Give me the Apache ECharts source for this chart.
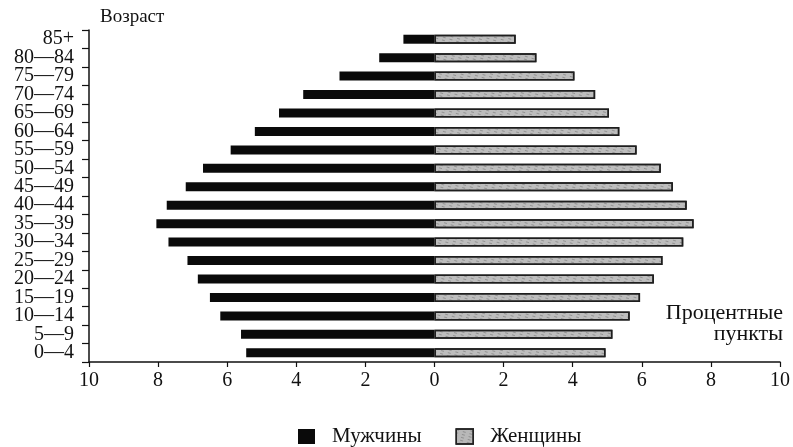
<!DOCTYPE html>
<html>
<head>
<meta charset="utf-8">
<script src="https://cdn.jsdelivr.net/npm/echarts@6/dist/echarts.min.js"></script>
<style>
html,body{margin:0;padding:0;background:#fff;}
#chart{width:793px;height:447px;}
</style>
</head>
<body>
<div id="chart"></div>
<script>
const ageGroups = ['0—4','5—9','10—14','15—19','20—24','25—29','30—34','35—39','40—44','45—49','50—54','55—59','60—64','65—69','70—74','75—79','80—84','85+'];
const men   = [5.45, 5.6, 6.2, 6.5, 6.85, 7.15, 7.7, 8.05, 7.75, 7.2, 6.7, 5.9, 5.2, 4.5, 3.8, 2.75, 1.6, 0.9];
const women = [4.95, 5.15, 5.65, 5.95, 6.35, 6.6, 7.2, 7.5, 7.3, 6.9, 6.55, 5.85, 5.35, 5.05, 4.65, 4.05, 2.95, 2.35];
const xTicks = [-10, -8, -6, -4, -2, 0, 2, 4, 6, 8, 10];
const seriesNames = ['Мужчины', 'Женщины'];

const FONT = '"Liberation Serif", "DejaVu Serif", serif';
const chart = echarts.init(document.getElementById('chart'));
chart.setOption({
  animation: false,
  backgroundColor: '#fff',
  textStyle: { fontFamily: FONT, color: '#111' },
  grid: { left: 89, right: 11, top: 30, bottom: 85, containLabel: false },
  xAxis: {
    type: 'value',
    min: xTicks[0], max: xTicks[xTicks.length - 1], interval: 2,
    axisLine: { show: true, onZero: false, lineStyle: { color: '#111', width: 1.5 } },
    axisTick: { show: true, length: 5, lineStyle: { color: '#111', width: 1.2 } },
    splitLine: { show: false },
    axisLabel: {
      fontFamily: FONT, fontSize: 20, color: '#111', margin: 9,
      formatter: v => String(Math.abs(v))
    }
  },
  yAxis: {
    type: 'category',
    data: ageGroups,
    axisLine: { show: true, onZero: false, lineStyle: { color: '#111', width: 1.5 } },
    axisTick: { show: true, length: 7, interval: 0, lineStyle: { color: '#111', width: 1.2 } },
    axisLabel: { fontFamily: FONT, fontSize: 20, lineHeight: 18, color: '#111', margin: 15, interval: 0 }
  },
  legend: {
    left: 293, top: 421,
    itemWidth: 17, itemHeight: 15, itemGap: 34,
    textStyle: { fontFamily: FONT, fontSize: 21, color: '#111', padding: [0, 0, 0, 12] },
    data: [
      { name: seriesNames[0], icon: 'rect', itemStyle: { color: '#0a0a0a' } },
      { name: seriesNames[1], icon: 'rect', itemStyle: { color: '#b8b8b8', borderColor: '#222', borderWidth: 1.5 } }
    ]
  },
  graphic: [
    { type: 'text', left: 100, top: 8, style: { text: 'Возраст', font: '19px ' + FONT, fill: '#111' } },
    { type: 'text', right: 10, top: 302, style: { text: 'Процентные', font: '22px ' + FONT, fill: '#111', align: 'right' } },
    { type: 'text', right: 10, top: 323, style: { text: 'пункты', font: '22px ' + FONT, fill: '#111', align: 'right' } }
  ],
  series: [
    {
      name: seriesNames[0], type: 'bar', stack: 'p', barWidth: 9,
      data: men.map(v => -v),
      itemStyle: { color: '#0a0a0a' }
    },
    {
      name: seriesNames[1], type: 'bar', stack: 'p', barWidth: 9,
      data: women,
      itemStyle: {
        color: '#bdbdbd', borderColor: '#1e1e1e', borderWidth: 1.5,
        decal: { symbol: 'rect', color: 'rgba(70,70,70,0.35)', dashArrayX: [[3, 4]], dashArrayY: [1, 2], rotation: 0.3, symbolSize: 1 }
      }
    }
  ]
});
</script>
</body>
</html>
